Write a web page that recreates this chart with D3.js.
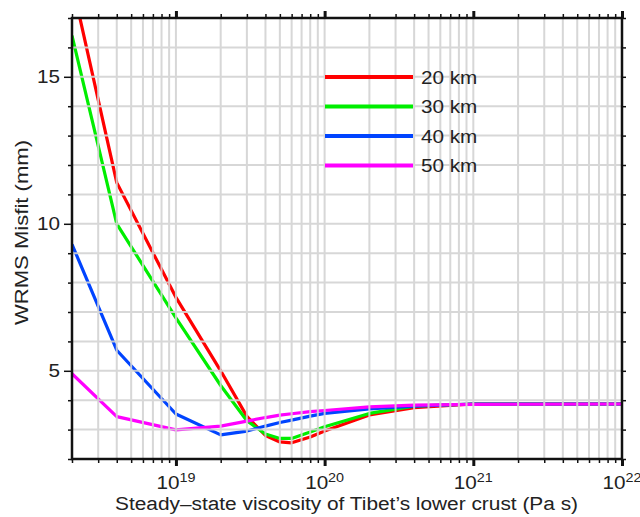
<!DOCTYPE html>
<html>
<head>
<meta charset="utf-8">
<script src="https://cdn.jsdelivr.net/npm/d3@7"></script>
<style>
  body { margin: 0; background: #fff; }
  text { font-family: "Liberation Sans", Arial, sans-serif; fill: #222; }
</style>
</head>
<body>
<svg id="chart" width="640" height="517"></svg>
<script>
// viscosity samples (Pa s)
var viscosity = [2e18, 4e18, 1e19, 2e19, 3e19, 4e19, 5e19, 6e19, 8e19, 1e20, 2e20, 4e20, 1e21, 1e22];
// WRMS misfit (mm) for each lower crust thickness
var misfit20 = [18.2, 11.4, 7.5, 5.0, 3.45, 2.8, 2.58, 2.55, 2.75, 2.95, 3.5, 3.75, 3.87, 3.87];
var misfit30 = [16.4, 10.0, 6.8, 4.5, 3.3, 2.85, 2.7, 2.7, 2.92, 3.1, 3.55, 3.8, 3.87, 3.87];
var misfit40 = [9.3, 5.7, 3.53, 2.82, 2.95, 3.12, 3.24, 3.32, 3.46, 3.55, 3.7, 3.8, 3.87, 3.87];
var misfit50 = [4.9, 3.44, 2.99, 3.12, 3.29, 3.41, 3.49, 3.54, 3.61, 3.65, 3.77, 3.83, 3.86, 3.87];
var seriesNames = ["20 km", "30 km", "40 km", "50 km"];
var seriesColors = ["#ff0000", "#00ee00", "#0044ff", "#ff00ff"];
var yLabels = [5, 10, 15];
var xLabelExp = [19, 20, 21, 22];

var series = [misfit20, misfit30, misfit40, misfit50];

var svg = d3.select("#chart");
var mLeft = 72, mRight = 622, mTop = 18, mBottom = 459;
var stretch = "scale(1.15,1)";

var x = d3.scaleLog().domain([2e18, 1e22]).range([mLeft, mRight]);
var y = d3.scaleLinear().domain([2, 17]).range([mBottom, mTop]);

svg.append("defs").append("clipPath").attr("id", "clip")
  .append("rect").attr("x", mLeft).attr("y", mTop)
  .attr("width", mRight - mLeft).attr("height", mBottom - mTop);

// minor x positions: every 1..9 x decade inside the domain
var xMinor = [];
for (var e = 18; e < 22; e++) {
  for (var m = 1; m < 10; m++) {
    var v = m * Math.pow(10, e);
    if (v >= 2e18 && v <= 1e22) xMinor.push(v);
  }
}
xMinor.push(1e22);
var yMinor = d3.range(2, 18);

// curves (drawn under the grid)
var line = d3.line().x(function (d, i) { return x(viscosity[i]); }).y(function (d) { return y(d); });
svg.append("g").attr("clip-path", "url(#clip)")
  .selectAll("path").data(series).join("path")
  .attr("d", line)
  .attr("fill", "none")
  .attr("stroke", function (d, i) { return seriesColors[i]; })
  .attr("stroke-width", 3.2)
  .attr("stroke-linejoin", "round");

// grid on top
var grid = svg.append("g").attr("stroke", "#d3d3d3").attr("stroke-width", 2).attr("opacity", 0.9);
grid.selectAll("line.v").data(xMinor).join("line").attr("class", "v")
  .attr("x1", function (d) { return x(d); }).attr("x2", function (d) { return x(d); })
  .attr("y1", mTop).attr("y2", mBottom);
grid.selectAll("line.h").data(yMinor).join("line").attr("class", "h")
  .attr("y1", function (d) { return y(d); }).attr("y2", function (d) { return y(d); })
  .attr("x1", mLeft).attr("x2", mRight);

// legend
var legend = svg.append("g");
seriesNames.forEach(function (name, i) {
  var ly = 77 + i * 29.5;
  legend.append("line").attr("x1", 325).attr("x2", 413).attr("y1", ly).attr("y2", ly)
    .attr("stroke", seriesColors[i]).attr("stroke-width", 4);
  legend.append("text").attr("transform", "translate(421," + (ly + 6.5) + ") " + stretch)
    .attr("font-size", 18).text(name);
});

// axes
var isMajor = function (d) { return Math.abs(Math.log10(d) - Math.round(Math.log10(d))) < 1e-9; };
var axB = svg.append("g").attr("transform", "translate(0," + mBottom + ")")
  .call(d3.axisBottom(x).tickValues(xMinor).tickSize(4).tickFormat(""));
var axT = svg.append("g").attr("transform", "translate(0," + mTop + ")")
  .call(d3.axisTop(x).tickValues(xMinor).tickSize(4).tickFormat(""));
[axB, axT].forEach(function (a) {
  var s = a === axB ? 1 : -1;
  a.selectAll(".tick line").attr("stroke", "#111")
    .attr("stroke-width", function (d) { return isMajor(d) ? 3 : 1.5; })
    .attr("y2", function (d) { return s * (isMajor(d) ? 7 : 4); });
});
var axL = svg.append("g").attr("transform", "translate(" + mLeft + ",0)")
  .call(d3.axisLeft(y).tickValues(yMinor).tickSize(4).tickFormat(""));
axL.selectAll(".tick line").attr("stroke", "#111").attr("stroke-width", 1.5)
  .attr("x2", function (d) { return yLabels.indexOf(d) >= 0 ? -8 : -4; });
var axR = svg.append("g").attr("transform", "translate(" + mRight + ",0)")
  .call(d3.axisRight(y).tickValues(yMinor).tickSize(4).tickFormat(""));
axR.selectAll(".tick line").attr("stroke", "#111").attr("stroke-width", 1.5);
svg.selectAll(".domain").remove();

svg.append("rect").attr("x", mLeft).attr("y", mTop).attr("width", mRight - mLeft).attr("height", mBottom - mTop)
  .attr("fill", "none").attr("stroke", "#111").attr("stroke-width", 2.5);

// tick labels
svg.selectAll("text.ylab").data(yLabels).join("text").attr("class", "ylab")
  .attr("transform", function (d) { return "translate(60," + (y(d) + 6.5) + ") " + stretch; })
  .attr("text-anchor", "end").attr("font-size", 18).text(function (d) { return d; });

var xl = svg.selectAll("text.xlab").data(xLabelExp).join("text").attr("class", "xlab")
  .attr("transform", function (d) { return "translate(" + x(Math.pow(10, d)) + ",489) " + stretch; })
  .attr("text-anchor", "middle").attr("font-size", 18);
xl.append("tspan").text("10");
xl.append("tspan").attr("font-size", 12.5).attr("dy", -7).text(function (d) { return d; });

// axis titles
svg.append("text").attr("x", 346.5).attr("y", 510).attr("text-anchor", "middle")
  .attr("font-size", 18).attr("textLength", 463).attr("lengthAdjust", "spacingAndGlyphs")
  .text("Steady\u2013state viscosity of Tibet\u2019s lower crust (Pa s)");
svg.append("text").attr("transform", "translate(28,232.5) rotate(-90)")
  .attr("text-anchor", "middle").attr("font-size", 18)
  .attr("textLength", 185).attr("lengthAdjust", "spacingAndGlyphs")
  .text("WRMS Misfit (mm)");
</script>
</body>
</html>
